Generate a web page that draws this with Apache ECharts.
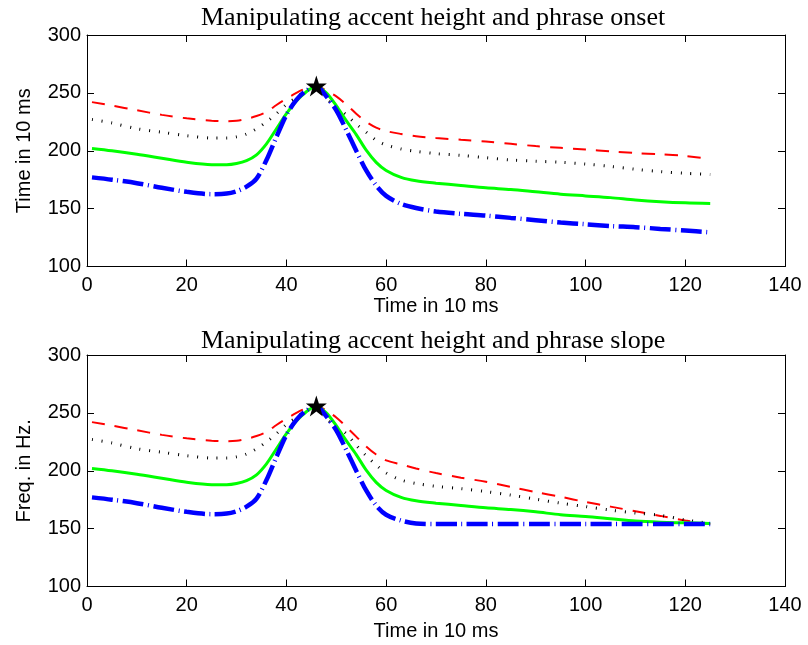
<!DOCTYPE html>
<html>
<head>
<meta charset="utf-8">
<script src="https://cdn.jsdelivr.net/npm/echarts@6/dist/echarts.min.js"></script>
<style>
html,body{margin:0;padding:0;background:#fff;}
#chart{width:808px;height:645px;}
</style>
</head>
<body>
<div id="chart"></div>
<script>
// ---- data (time in 10 ms) ----
var timeSteps = [1,5,10,15,20,25,28,30,32,34,36,38,40,42,44,46,48,50,52,54,56,58,60,63,66,70,75,80,85,90,95,100,105,110,115,120,125];

// Top panel: accent height and phrase onset
var onsetRed   = [242,239,235,231,228,226,225.5,226,227.5,230,233.5,239.5,245,250,254,256,252,247,240,232,225,220,217,214.5,212.5,211,209.5,208,206,204,202.5,201,199.5,198,197,195.5,193];
var onsetBlack = [227,224,219,216,213,211,211,212,214.5,219,225,232,240,246,252,256,245,238,231,223,216,209,205,201.5,199.5,197.5,196,194,192,191,190,188.5,186.5,184,182,180.5,179.5];
var onsetGreen = [202,200,197,193.5,190,188,188,189,191.5,196.5,206,219,232,243,251,256,250,239,226,214,200.5,190,183,177,174,172,170,168,166.5,164.5,162.5,161,159.5,157.5,156,155,154.5];
var onsetBlue  = [177,175,172,168,164.5,162.5,163,165,169,176,192,212,231,244,252,256,247,235,218,200,183,170,161,154,150.5,147.5,145.5,144,142,140,138,136.5,135,134,132.5,131,129.5];

// Bottom panel: accent height and phrase slope
var slopeRed   = [242,239,235,231,228,226,225.5,226,227.5,230,233.5,239.5,245,250,254,256,252,246,238,229.5,221,214,209,205.5,202,198,194,190.5,186,181.5,177.5,173,169,165,161,157,154];
var slopeBlack = [227,224,219,216,213,211,211,212,214.5,219,225,232,240,246,252,256,245,238,232,222,213,205,198,192,189,186.5,184.5,182,179,175.5,172,169,166,163.5,161.5,157.5,154.5];
var slopeGreen = [202,200,197,193.5,190,188,188,189,191.5,196.5,206,219,232,243,251,256,250,239,226,214,200.5,190,183,177,174,172,170,168,166.5,164.5,162,160.5,158.5,156.5,155.5,155,154.5];
var slopeBlue  = [177,175,172,168,164.5,162.5,163,165,169,176,192,212,231,244,252,256,247,235,218,200,183,170,162,157,154.5,154,154,154,154,154,154,154,154,154,154,154,154];

// accent peak marker
var peakPoint = [46, 256];

var xTicks = {min:0, max:140, interval:20};
var yTicks = {min:100, max:300, interval:50};

var titles = ['Manipulating accent height and phrase onset', 'Manipulating accent height and phrase slope'];
var yNames = ['Time in 10 ms', 'Freq. in Hz.'];
var xName = 'Time in 10 ms';

// ---- chart ----
function pairs(vals){ return timeSteps.map(function(t,i){ return [t, vals[i]]; }); }

var sans = 'Liberation Sans, Arial, Helvetica, sans-serif';
var serif = 'Liberation Serif, Times New Roman, serif';
var starPath = 'path://M50,0 L61.8,35.1 L98.9,35.1 L68.9,57.3 L80.3,92.7 L50,70.8 L19.7,92.7 L31.1,57.3 L1.1,35.1 L38.2,35.1 Z';

var grids = [
  {left:87, right:23, top:35, height:231.5},
  {left:87, right:23, top:355, height:231.5}
];

function xAxisPair(gi, nameGap){
  var base = {
    gridIndex: gi, type:'value', min:xTicks.min, max:xTicks.max, interval:xTicks.interval,
    axisLine:{show:true, onZero:false, lineStyle:{color:'#000', width:1}},
    axisTick:{show:true, inside:true, length:7, lineStyle:{color:'#000', width:1}},
    splitLine:{show:false}
  };
  var bottom = Object.assign({}, base, {
    position:'bottom',
    axisLabel:{show:true, color:'#000', fontSize:20, fontFamily:sans, margin:9, showMinLabel:true, showMaxLabel:true},
    name:xName, nameLocation:'middle', nameGap:nameGap,
    nameTextStyle:{color:'#000', fontSize:20, fontFamily:sans}
  });
  var top = Object.assign({}, base, {position:'top', axisLabel:{show:false}});
  return [bottom, top];
}
function yAxisPair(gi, name){
  var base = {
    gridIndex: gi, type:'value', min:yTicks.min, max:yTicks.max, interval:yTicks.interval,
    axisLine:{show:true, onZero:false, lineStyle:{color:'#000', width:1}},
    axisTick:{show:true, inside:true, length:7, lineStyle:{color:'#000', width:1}},
    splitLine:{show:false}
  };
  var left = Object.assign({}, base, {
    position:'left',
    axisLabel:{show:true, color:'#000', fontSize:20, fontFamily:sans, margin:6, showMinLabel:true, showMaxLabel:true},
    name:name, nameLocation:'middle', nameGap:53,
    nameTextStyle:{color:'#000', fontSize:20, fontFamily:sans}
  });
  var right = Object.assign({}, base, {position:'right', axisLabel:{show:false}});
  return [left, right];
}

var xa = xAxisPair(0, 16).concat(xAxisPair(1, 35));
var ya = yAxisPair(0, yNames[0]).concat(yAxisPair(1, yNames[1]));

function lineSeries(gi, vals, color, width, type){
  return {
    type:'line', xAxisIndex: gi*2, yAxisIndex: gi*2, data: pairs(vals),
    showSymbol:false, symbol:'none', smooth:0.3, silent:true,
    lineStyle:{color:color, width:width, type:type, cap:'butt'}
  };
}
var redDash = [13,10];
var blackDot = [1,8.7];
var blueDashDot = [21,4.5,1,4.5];

var series = [];
[[onsetRed,onsetBlack,onsetGreen,onsetBlue],[slopeRed,slopeBlack,slopeGreen,slopeBlue]].forEach(function(set, gi){
  series.push(lineSeries(gi, set[0], '#ff0000', 2, redDash));
  series.push(lineSeries(gi, set[1], '#000000', 3, blackDot));
  series.push(lineSeries(gi, set[2], '#00ff00', 3, 'solid'));
  series.push(lineSeries(gi, set[3], '#0000ff', 4.5, blueDashDot));
  series.push({
    type:'scatter', xAxisIndex: gi*2, yAxisIndex: gi*2, data:[peakPoint],
    symbol: starPath, symbolSize: 21, itemStyle:{color:'#000', opacity:1}, silent:true, z:5
  });
});

var chart = echarts.init(document.getElementById('chart'), null, {renderer:'canvas'});
chart.setOption({
  animation:false,
  backgroundColor:'#fff',
  title:[
    {text:titles[0], left:201, top:5, padding:0, textStyle:{color:'#000', fontSize:26, fontWeight:'normal', fontFamily:serif}},
    {text:titles[1], left:201, top:328, padding:0, textStyle:{color:'#000', fontSize:26, fontWeight:'normal', fontFamily:serif}}
  ],
  grid: grids,
  xAxis: xa,
  yAxis: ya,
  series: series
});
</script>
</body>
</html>
